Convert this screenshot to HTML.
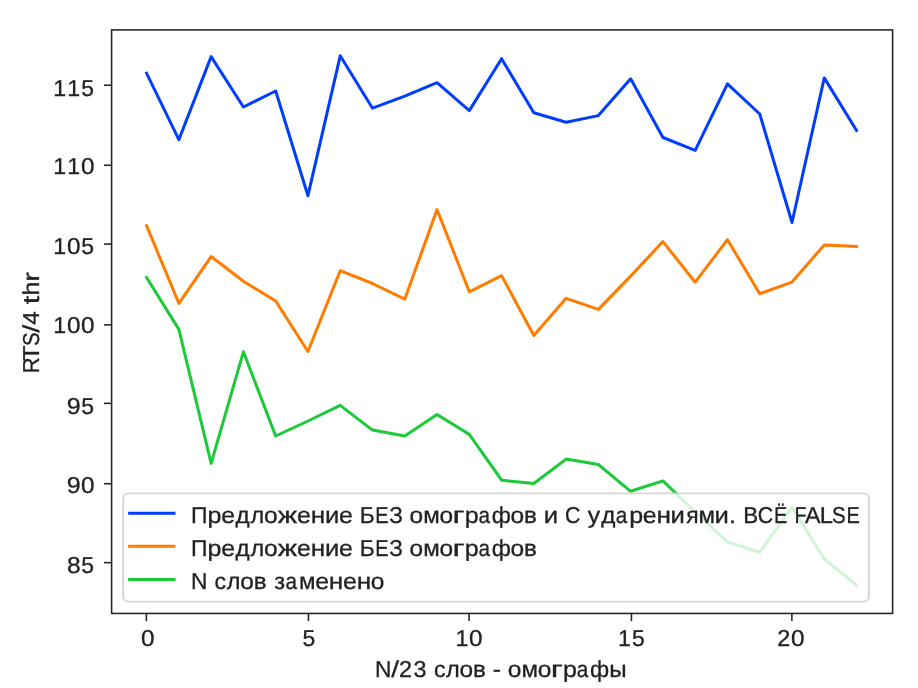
<!DOCTYPE html>
<html><head><meta charset="utf-8"><style>
html,body{margin:0;padding:0;background:#fff;overflow:hidden;}
svg{display:block;}
text{text-rendering:geometricPrecision;font-family:"Liberation Sans",sans-serif;font-size:23.0px;fill:#222;stroke:#222;stroke-width:0.3px;}
</style></head><body>
<svg width="918" height="688" viewBox="0 0 918 688">
<defs><filter id="bl" x="0" y="0" width="918" height="688" filterUnits="userSpaceOnUse"><feGaussianBlur stdDeviation="0.5"/></filter><filter id="bl2" x="0" y="0" width="918" height="688" filterUnits="userSpaceOnUse"><feGaussianBlur stdDeviation="0.45"/></filter></defs><g filter="url(#bl)"><rect x="0" y="0" width="918" height="688" fill="#fff"/>
<polyline filter="url(#bl2)" points="146.60,73.30 178.87,139.70 211.14,56.60 243.41,107.00 275.68,91.00 307.95,195.70 340.22,55.80 372.49,108.20 404.76,96.10 437.03,82.70 469.30,110.60 501.57,58.70 533.84,112.80 566.11,122.20 598.38,115.60 630.65,78.80 662.92,137.50 695.19,150.30 727.46,83.90 759.73,114.00 792.00,222.50 824.27,77.90 856.54,130.50" fill="none" stroke="#023eff" stroke-width="3.0" stroke-linejoin="round" stroke-linecap="square"/>
<polyline filter="url(#bl2)" points="146.60,225.70 178.87,303.40 211.14,256.55 243.41,281.30 275.68,301.00 307.95,351.50 340.22,270.70 372.49,283.50 404.76,299.20 437.03,209.60 469.30,291.80 501.57,275.60 533.84,335.50 566.11,298.30 598.38,309.40 630.65,276.10 662.92,241.60 695.19,282.20 727.46,239.65 759.73,293.75 792.00,282.10 824.27,244.90 856.54,246.40" fill="none" stroke="#ff7c00" stroke-width="3.0" stroke-linejoin="round" stroke-linecap="square"/>
<polyline filter="url(#bl2)" points="146.60,277.60 178.87,329.40 211.14,463.40 243.41,351.80 275.68,436.00 307.95,421.00 340.22,405.35 372.49,430.10 404.76,436.00 437.03,414.50 469.30,434.40 501.57,480.20 533.84,483.50 566.11,459.10 598.38,464.50 630.65,491.30 662.92,480.90 695.19,512.00 727.46,542.00 759.73,552.25 792.00,507.10 824.27,558.90 856.54,585.30" fill="none" stroke="#1ac938" stroke-width="3.0" stroke-linejoin="round" stroke-linecap="square"/>
<rect x="111.6" y="29.9" width="781.00" height="583.55" fill="none" stroke="#222" stroke-width="1.55"/>
<line x1="146.36" y1="613.45" x2="146.36" y2="621.11" stroke="#222" stroke-width="1.55"/>
<g><text transform="scale(1.055,1)" x="133.70" y="645.60">0</text></g>
<line x1="308.45" y1="613.45" x2="308.45" y2="621.11" stroke="#222" stroke-width="1.55"/>
<g><text transform="scale(0.996,1)" x="303.71" y="645.60">5</text></g>
<line x1="469.06" y1="613.45" x2="469.06" y2="621.11" stroke="#222" stroke-width="1.55"/>
<g><text transform="scale(1.008,1)" x="451.82" y="645.60">1</text><text transform="scale(1.055,1)" x="444.57" y="645.60">0</text></g>
<line x1="631.45" y1="613.45" x2="631.45" y2="621.11" stroke="#222" stroke-width="1.55"/>
<g><text transform="scale(1.008,1)" x="613.13" y="645.60">1</text><text transform="scale(0.996,1)" x="634.61" y="645.60">5</text></g>
<line x1="791.88" y1="613.45" x2="791.88" y2="621.11" stroke="#222" stroke-width="1.55"/>
<g><text transform="scale(1.017,1)" x="764.22" y="645.60">2</text><text transform="scale(1.055,1)" x="749.89" y="645.60">0</text></g>
<line x1="111.6" y1="562.65" x2="103.94" y2="562.65" stroke="#222" stroke-width="1.55"/>
<g><text transform="scale(1.067,1)" x="62.75" y="573.10">8</text><text transform="scale(0.996,1)" x="81.59" y="573.10">5</text></g>
<line x1="111.6" y1="483.73" x2="103.94" y2="483.73" stroke="#222" stroke-width="1.55"/>
<g><text transform="scale(1.090,1)" x="61.21" y="492.50">9</text><text transform="scale(1.055,1)" x="76.72" y="492.50">0</text></g>
<line x1="111.6" y1="403.35" x2="103.94" y2="403.35" stroke="#222" stroke-width="1.55"/>
<g><text transform="scale(1.090,1)" x="61.21" y="413.60">9</text><text transform="scale(0.996,1)" x="81.59" y="413.60">5</text></g>
<line x1="111.6" y1="324.87" x2="103.94" y2="324.87" stroke="#222" stroke-width="1.55"/>
<g><text transform="scale(1.008,1)" x="52.83" y="333.30">1</text><text transform="scale(1.055,1)" x="63.50" y="333.30">0</text><text transform="scale(1.055,1)" x="76.72" y="333.30">0</text></g>
<line x1="111.6" y1="244.10" x2="103.94" y2="244.10" stroke="#222" stroke-width="1.55"/>
<g><text transform="scale(1.008,1)" x="52.83" y="254.40">1</text><text transform="scale(1.055,1)" x="63.50" y="254.40">0</text><text transform="scale(0.996,1)" x="81.59" y="254.40">5</text></g>
<line x1="111.6" y1="165.26" x2="103.94" y2="165.26" stroke="#222" stroke-width="1.55"/>
<g><text transform="scale(1.008,1)" x="52.83" y="174.00">1</text><text transform="scale(1.008,1)" x="66.67" y="174.00">1</text><text transform="scale(1.055,1)" x="76.72" y="174.00">0</text></g>
<line x1="111.6" y1="85.23" x2="103.94" y2="85.23" stroke="#222" stroke-width="1.55"/>
<g><text transform="scale(1.008,1)" x="52.83" y="95.50">1</text><text transform="scale(1.008,1)" x="66.67" y="95.50">1</text><text transform="scale(0.996,1)" x="81.59" y="95.50">5</text></g>
<g><text transform="scale(0.989,1)" x="379.26" y="676.50">N</text><text transform="scale(1.214,1)" x="322.30" y="676.50">/</text><text transform="scale(1.017,1)" x="392.27" y="676.50">2</text><text transform="scale(1.014,1)" x="407.82" y="676.50">3</text><text transform="scale(1.005,1)" x="431.76" y="676.50">с</text><text transform="scale(1.021,1)" x="436.88" y="676.50">л</text><text transform="scale(1.064,1)" x="431.94" y="676.50">о</text><text transform="scale(1.051,1)" x="450.17" y="676.50">в</text><text transform="scale(1.079,1)" x="456.75" y="676.50">-</text><text transform="scale(1.064,1)" x="477.23" y="676.50">о</text><text transform="scale(1.044,1)" x="499.53" y="676.50">м</text><text transform="scale(1.064,1)" x="505.38" y="676.50">о</text><text transform="scale(1.451,1)" x="379.58" y="676.50">г</text><text transform="scale(1.089,1)" x="516.91" y="676.50">р</text><text transform="scale(0.900,1)" x="640.93" y="676.50">а</text><text transform="scale(1.011,1)" x="583.61" y="676.50">ф</text><text transform="scale(1.053,1)" x="578.59" y="676.50">ы</text></g>
<g transform="translate(39.1,323.0) rotate(-90)"><g><text transform="scale(0.958,1)" x="-52.59" y="0.00">R</text><text transform="scale(1.092,1)" x="-34.54" y="0.00">T</text><text transform="scale(0.892,1)" x="-25.91" y="0.00">S</text><text transform="scale(1.214,1)" x="-7.92" y="0.00">/</text><text transform="scale(1.055,1)" x="-1.72" y="0.00">4</text><text transform="scale(1.338,1)" x="14.06" y="0.00">t</text><text transform="scale(1.087,1)" x="25.29" y="0.00">h</text><text transform="scale(1.283,1)" x="32.15" y="0.00">r</text></g></g>
<rect x="123.2" y="493.4" width="745.70" height="108.20" rx="5" ry="5" fill="#fff" fill-opacity="0.8" stroke="#cccccc" stroke-opacity="0.8" stroke-width="1.9"/>
<line x1="129.6" y1="513.30" x2="174.0" y2="513.30" stroke="#023eff" stroke-width="3.0" stroke-linecap="square"/>
<g><text transform="scale(0.996,1)" x="191.78" y="522.70">П</text><text transform="scale(1.089,1)" x="190.60" y="522.70">р</text><text transform="scale(1.081,1)" x="204.64" y="522.70">е</text><text transform="scale(1.056,1)" x="223.09" y="522.70">д</text><text transform="scale(1.021,1)" x="245.24" y="522.70">л</text><text transform="scale(1.064,1)" x="248.04" y="522.70">о</text><text transform="scale(1.259,1)" x="220.60" y="522.70">ж</text><text transform="scale(1.081,1)" x="274.77" y="522.70">е</text><text transform="scale(1.143,1)" x="271.79" y="522.70">н</text><text transform="scale(1.116,1)" x="291.15" y="522.70">и</text><text transform="scale(1.081,1)" x="313.69" y="522.70">е</text><text transform="scale(0.991,1)" x="363.12" y="522.70">Б</text><text transform="scale(0.868,1)" x="432.31" y="522.70">Е</text><text transform="scale(0.977,1)" x="398.37" y="522.70">З</text><text transform="scale(1.064,1)" x="384.89" y="522.70">о</text><text transform="scale(1.044,1)" x="405.38" y="522.70">м</text><text transform="scale(1.064,1)" x="413.04" y="522.70">о</text><text transform="scale(1.451,1)" x="311.86" y="522.70">г</text><text transform="scale(1.089,1)" x="426.68" y="522.70">р</text><text transform="scale(0.900,1)" x="531.77" y="522.70">а</text><text transform="scale(1.011,1)" x="486.41" y="522.70">ф</text><text transform="scale(1.064,1)" x="479.79" y="522.70">о</text><text transform="scale(1.051,1)" x="498.61" y="522.70">в</text><text transform="scale(1.116,1)" x="487.29" y="522.70">и</text><text transform="scale(0.929,1)" x="608.05" y="522.70">С</text><text transform="scale(1.075,1)" x="546.78" y="522.70">у</text><text transform="scale(1.056,1)" x="569.46" y="522.70">д</text><text transform="scale(0.900,1)" x="684.11" y="522.70">а</text><text transform="scale(1.089,1)" x="577.72" y="522.70">р</text><text transform="scale(1.081,1)" x="594.56" y="522.70">е</text><text transform="scale(1.143,1)" x="574.34" y="522.70">н</text><text transform="scale(1.116,1)" x="600.90" y="522.70">и</text><text transform="scale(0.993,1)" x="690.97" y="522.70">я</text><text transform="scale(1.044,1)" x="669.00" y="522.70">м</text><text transform="scale(1.116,1)" x="640.30" y="522.70">и</text><text transform="scale(1.083,1)" x="673.08" y="522.70">.</text><text transform="scale(0.973,1)" x="763.98" y="522.70">В</text><text transform="scale(0.929,1)" x="815.55" y="522.70">С</text><text transform="scale(0.868,1)" x="891.69" y="522.70">Ё</text><text transform="scale(0.858,1)" x="925.92" y="522.70">F</text><text transform="scale(1.009,1)" x="797.83" y="522.70">A</text><text transform="scale(1.030,1)" x="795.97" y="522.70">L</text><text transform="scale(0.892,1)" x="932.61" y="522.70">S</text><text transform="scale(0.868,1)" x="975.34" y="522.70">E</text></g>
<line x1="129.6" y1="546.37" x2="174.0" y2="546.37" stroke="#ff7c00" stroke-width="3.0" stroke-linecap="square"/>
<g><text transform="scale(0.996,1)" x="191.78" y="555.77">П</text><text transform="scale(1.089,1)" x="190.60" y="555.77">р</text><text transform="scale(1.081,1)" x="204.64" y="555.77">е</text><text transform="scale(1.056,1)" x="223.09" y="555.77">д</text><text transform="scale(1.021,1)" x="245.24" y="555.77">л</text><text transform="scale(1.064,1)" x="248.04" y="555.77">о</text><text transform="scale(1.259,1)" x="220.60" y="555.77">ж</text><text transform="scale(1.081,1)" x="274.77" y="555.77">е</text><text transform="scale(1.143,1)" x="271.79" y="555.77">н</text><text transform="scale(1.116,1)" x="291.15" y="555.77">и</text><text transform="scale(1.081,1)" x="313.69" y="555.77">е</text><text transform="scale(0.991,1)" x="363.12" y="555.77">Б</text><text transform="scale(0.868,1)" x="432.31" y="555.77">Е</text><text transform="scale(0.977,1)" x="398.37" y="555.77">З</text><text transform="scale(1.064,1)" x="384.89" y="555.77">о</text><text transform="scale(1.044,1)" x="405.38" y="555.77">м</text><text transform="scale(1.064,1)" x="413.04" y="555.77">о</text><text transform="scale(1.451,1)" x="311.86" y="555.77">г</text><text transform="scale(1.089,1)" x="426.68" y="555.77">р</text><text transform="scale(0.900,1)" x="531.77" y="555.77">а</text><text transform="scale(1.011,1)" x="486.41" y="555.77">ф</text><text transform="scale(1.064,1)" x="479.79" y="555.77">о</text><text transform="scale(1.051,1)" x="498.61" y="555.77">в</text></g>
<line x1="129.6" y1="579.44" x2="174.0" y2="579.44" stroke="#1ac938" stroke-width="3.0" stroke-linecap="square"/>
<g><text transform="scale(0.989,1)" x="193.13" y="588.84">N</text><text transform="scale(1.005,1)" x="213.40" y="588.84">с</text><text transform="scale(1.021,1)" x="222.10" y="588.84">л</text><text transform="scale(1.064,1)" x="225.83" y="588.84">о</text><text transform="scale(1.051,1)" x="241.53" y="588.84">в</text><text transform="scale(1.028,1)" x="266.86" y="588.84">з</text><text transform="scale(0.900,1)" x="317.24" y="588.84">а</text><text transform="scale(1.044,1)" x="286.31" y="588.84">м</text><text transform="scale(1.081,1)" x="291.56" y="588.84">е</text><text transform="scale(1.143,1)" x="287.67" y="588.84">н</text><text transform="scale(1.081,1)" x="317.29" y="588.84">е</text><text transform="scale(1.143,1)" x="312.02" y="588.84">н</text><text transform="scale(1.064,1)" x="348.56" y="588.84">о</text></g></g>
</svg>
</body></html>
